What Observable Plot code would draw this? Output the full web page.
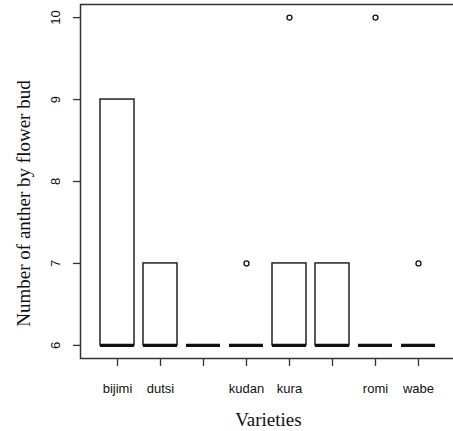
<!DOCTYPE html>
<html>
<head>
<meta charset="utf-8">
<script src="https://cdn.jsdelivr.net/npm/d3@7"></script>
<script src="https://cdn.jsdelivr.net/npm/@observablehq/plot@0.6"></script>
<style>
  html, body { margin: 0; padding: 0; background: #fff; }
  svg { overflow: hidden; }
</style>
</head>
<body>
<div id="chart"></div>
<script>
// Categories (R hides two labels that would overlap their neighbours)
const categories = ["bijimi", "dutsi", "var3", "kudan", "kura", "var6", "romi", "wabe"];
const tickLabels = ["bijimi", "dutsi", "", "kudan", "kura", "", "romi", "wabe"];
// Box statistics per category
const whiskerLow  = [6, 6, 6, 6, 6, 6, 6, 6];
const q1          = [6, 6, 6, 6, 6, 6, 6, 6];
const median      = [6, 6, 6, 6, 6, 6, 6, 6];
const q3          = [9, 7, 6, 6, 7, 7, 6, 6];
const whiskerHigh = [9, 7, 6, 6, 7, 7, 6, 6];
// Outliers
const outlierCategory = ["kudan", "kura", "romi", "wabe"];
const outlierValue    = [7, 10, 10, 7];
const yTicks = [6, 7, 8, 9, 10];

const boxes = categories.map((c, i) => ({
  c, lo: whiskerLow[i], q1: q1[i], med: median[i], q3: q3[i], hi: whiskerHigh[i]
}));
const outliers = outlierCategory.map((c, i) => ({c, v: outlierValue[i]}));

const W = 453, H = 431;
const mLeft = 80, mTop = 4, yBottom = 358;
const step = 43.5;
const xRight = mLeft + step * 8.64;

const sans = "'Liberation Sans', Arial, sans-serif";
const serif = "'Liberation Serif', 'Times New Roman', serif";

const chart = Plot.plot({
  width: W,
  height: H,
  marginLeft: mLeft,
  marginTop: mTop,
  marginBottom: H - yBottom,
  marginRight: W - xRight,
  style: {fontFamily: sans, background: "#fff", overflow: "hidden"},
  x: {type: "band", domain: categories, range: [mLeft, xRight], paddingInner: 0.2, paddingOuter: 0.42, axis: null},
  y: {domain: [5.84, 10.16], range: [yBottom, mTop], axis: null},
  marks: [
    Plot.frame({stroke: "#333", strokeWidth: 1.5}),
    Plot.axisX({
      tickSize: 8, tickPadding: 17, fontSize: 13, stroke: "#333", strokeWidth: 1.3,
      tickFormat: (d) => tickLabels[categories.indexOf(d)], fill: "#111",
      label: null
    }),
    Plot.axisY({ticks: yTicks, tickSize: 7, tickFormat: () => "", stroke: "#333", strokeWidth: 1.3, label: null}),
    Plot.text(yTicks, {
      y: (d) => d, text: (d) => String(d), frameAnchor: "left", dx: -25,
      rotate: -90, textAnchor: "middle", fontSize: 13, fill: "#111"
    }),
    Plot.text(["Number of anther by flower bud"], {
      frameAnchor: "left", dx: -57, dy: 22, rotate: -90, textAnchor: "middle",
      fontSize: 19, fontFamily: serif, fill: "#111"
    }),
    Plot.text(["Varieties"], {
      frameAnchor: "bottom", dy: 67, textAnchor: "middle",
      fontSize: 19, fontFamily: serif, fill: "#111"
    }),
    // whiskers
    Plot.ruleX(boxes, {x: "c", y1: "lo", y2: "q1", stroke: "#222", strokeDasharray: "4,3"}),
    Plot.ruleX(boxes, {x: "c", y1: "q3", y2: "hi", stroke: "#222", strokeDasharray: "4,3"}),
    // boxes
    Plot.barY(boxes, {x: "c", y1: "q1", y2: "q3", fill: "none", stroke: "#222", strokeWidth: 1.5}),
    // medians
    Plot.tickY(boxes, {x: "c", y: "med", stroke: "#111", strokeWidth: 3.2}),
    // outliers
    Plot.dot(outliers, {x: "c", y: "v", r: 2.5, stroke: "#111", strokeWidth: 1.3, fill: "none"})
  ]
});
document.getElementById("chart").appendChild(chart);
</script>
</body>
</html>
